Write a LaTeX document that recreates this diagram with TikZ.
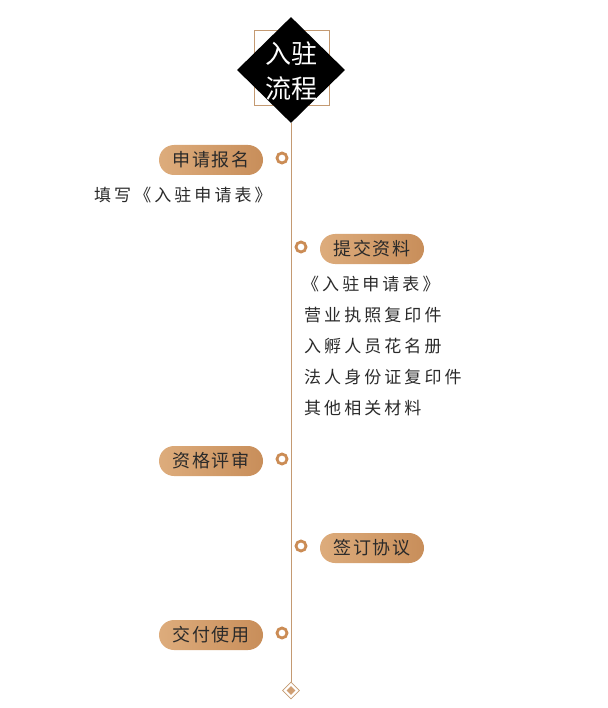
\documentclass[tikz,border=0pt]{standalone}
\usepackage{fontspec}
\setmainfont{Noto Sans CJK SC}
\usetikzlibrary{shapes.geometric,shapes.misc}
\definecolor{tanA}{HTML}{DDAC7C}
\definecolor{tanB}{HTML}{C88E5A}
\definecolor{ringc}{HTML}{CB8C55}
\definecolor{linec}{HTML}{C49A72}
\definecolor{txtc}{HTML}{2A2A2A}
\tikzset{
  pill/.style={rounded rectangle, minimum width=104pt, minimum height=30pt, inner sep=0pt,
    left color=tanA, right color=tanB, text=txtc,
    font=\fontsize{18pt}{18pt}\selectfont\addfontfeature{LetterSpace=10}},
  ring/.style={circle, draw=ringc, line width=2.8pt, minimum size=10pt, inner sep=0pt, fill=white},
  itemtxt/.style={anchor=west, inner sep=0pt, text=txtc,
    font=\fontsize{17pt}{17pt}\selectfont\addfontfeature{LetterSpace=18}},
}
\begin{document}
\begin{tikzpicture}[x=1pt,y=-1pt]
\useasboundingbox (0,0) rectangle (607,708);
% timeline
\coordinate (lineend) at (291,682);
\node[draw=linec, line width=0.6pt, minimum size=75pt, inner sep=0pt] (sq) at (291.5,68) {};
\node[diamond, fill=black, minimum width=108pt, minimum height=106pt, inner sep=0pt] (hd) at (291,70) {};
\node[text=white, align=center, font=\fontsize{26pt}{35pt}\selectfont] (ht) at (291,71) {入驻\\流程};
\draw[linec, line width=0.8pt] (hd.south) -- (lineend);
\node[diamond, draw=linec, fill=white, line width=0.8pt, minimum size=17pt, inner sep=0pt] (ed) at (291,690.5) {};
\node[diamond, fill=tanB!85, minimum size=9pt, inner sep=0pt] (edi) at (ed.center) {};
% steps
\node[pill] (p1) at (211,160) {申请报名};
\node[ring] (r1) at (282,158) {};
\node[pill] (p2) at (372,249) {提交资料};
\node[ring] (r2) at (301,247) {};
\node[pill] (p3) at (211,461) {资格评审};
\node[ring] (r3) at (282,459) {};
\node[pill] (p4) at (372,548) {签订协议};
\node[ring] (r4) at (301,546) {};
\node[pill] (p5) at (211,635) {交付使用};
\node[ring] (r5) at (282,633) {};
% texts
\node[itemtxt] (t1) at (94,195) {填写《入驻申请表》};
\node[itemtxt] (t2a) at (302,284) {《入驻申请表》};
\node[itemtxt] (t2b) at (304,315) {营业执照复印件};
\node[itemtxt] (t2c) at (304,346) {入孵人员花名册};
\node[itemtxt] (t2d) at (304,377) {法人身份证复印件};
\node[itemtxt] (t2e) at (304,408) {其他相关材料};
\end{tikzpicture}
\end{document}
